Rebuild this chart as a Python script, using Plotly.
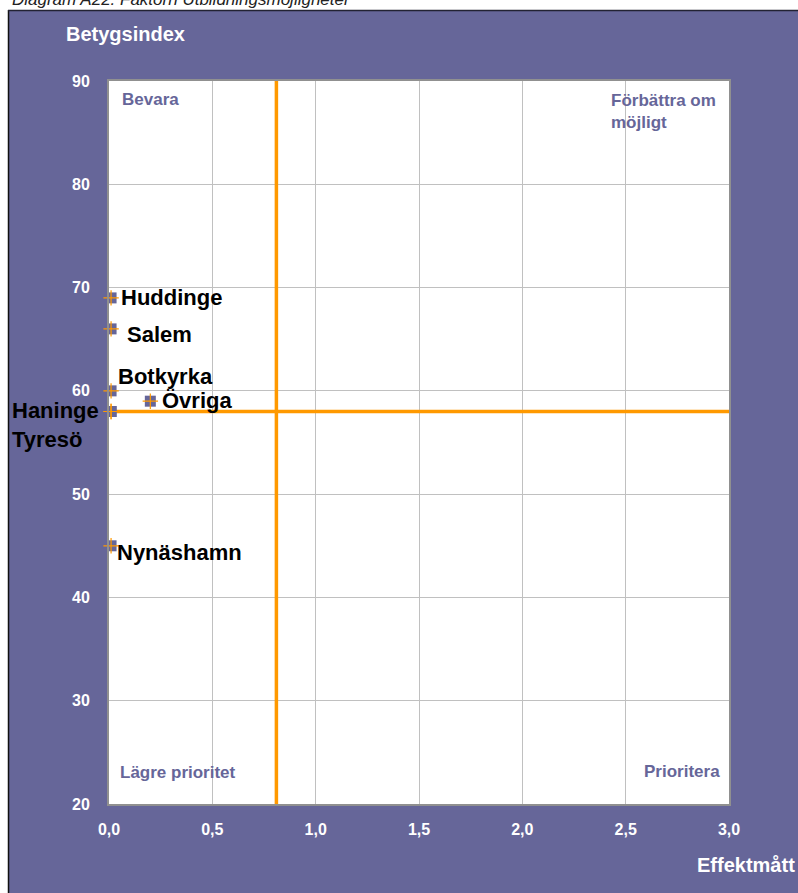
import plotly.graph_objects as go

# ---- data ----
names = ["Huddinge", "Salem", "Botkyrka", "Övriga", "Haninge", "Tyresö", "Nynäshamn"]
effekt = [0.01, 0.01, 0.01, 0.20, 0.01, 0.01, 0.01]
betyg = [69.0, 66.0, 60.0, 59.0, 58.0, 58.0, 45.0]
x_ticks = [0.0, 0.5, 1.0, 1.5, 2.0, 2.5, 3.0]
y_ticks = [20, 30, 40, 50, 60, 70, 80, 90]
x_range = [0.0, 3.0]
y_range = [20, 90]
x_mean = 0.81
y_mean = 58.0

PURPLE = "#666699"
ORANGE = "#FF9900"
FONT = "Liberation Sans, Arial, sans-serif"

W, H = 798, 893
L, R, T, B = 109, 69, 81, 89
PW, PH = W - L - R, H - T - B


def px(xp):
    return (xp - L) / PW


def py(yp):
    return (H - B - yp) / PH


fig = go.Figure()

# orange reference lines
fig.add_trace(go.Scatter(x=x_range, y=[y_mean, y_mean], mode="lines",
                         line=dict(color=ORANGE, width=3.5), hoverinfo="skip", showlegend=False))
fig.add_trace(go.Scatter(x=[x_mean, x_mean], y=y_range, mode="lines",
                         line=dict(color=ORANGE, width=3.5), hoverinfo="skip", showlegend=False))

# markers: purple square with orange cross
fig.add_trace(go.Scatter(x=effekt, y=betyg, mode="markers", text=names,
                         marker=dict(symbol="square", size=11, color=PURPLE, line=dict(width=0)),
                         cliponaxis=True, showlegend=False))
fig.add_trace(go.Scatter(x=effekt, y=betyg, mode="markers", hoverinfo="skip",
                         marker=dict(symbol="cross-thin", size=11, line=dict(color=ORANGE, width=1.2)),
                         cliponaxis=False, showlegend=False))

# data labels (offsets in pixels)
label_style = {
    "Huddinge": dict(xanchor="left", xshift=8, yshift=0),
    "Salem": dict(xanchor="left", xshift=14, yshift=-6),
    "Botkyrka": dict(xanchor="left", xshift=5, yshift=14),
    "Övriga": dict(xanchor="left", xshift=10, yshift=1),
    "Nynäshamn": dict(xanchor="left", xshift=4, yshift=-7),
}
LBL_FONT = dict(family=FONT, size=22, color="black")
annotations = []
for n, xv, yv in zip(names, effekt, betyg):
    if n in label_style:
        annotations.append(dict(x=xv, y=yv, xref="x", yref="y", text="<b>" + n + "</b>",
                                showarrow=False, yanchor="middle", font=LBL_FONT,
                                **label_style[n]))
# combined Haninge / Tyresö label
i_h = names.index("Haninge")
i_t = names.index("Tyresö")
annotations.append(dict(x=effekt[i_h], y=betyg[i_h], xref="x", yref="y",
                        text="<b>" + names[i_h] + "</b><br><b>" + names[i_t] + "</b>",
                        showarrow=False, align="left",
                        xanchor="right", yanchor="middle", xshift=-10, yshift=-13,
                        font=dict(family=FONT, size=22, color="black", lineposition="none"),
                        ))

# quadrant labels
qfont = dict(family=FONT, size=17, color=PURPLE)
annotations += [
    dict(x=px(120), y=py(99), xref="paper", yref="paper", text="<b>Bevara</b>",
         showarrow=False, xanchor="left", yanchor="middle", font=qfont),
    dict(x=px(609), y=py(89), xref="paper", yref="paper", text="<b>Förbättra om<br>möjligt</b>",
         showarrow=False, xanchor="left", yanchor="top", align="left", font=qfont),
    dict(x=px(118), y=py(772), xref="paper", yref="paper", text="<b>Lägre prioritet</b>",
         showarrow=False, xanchor="left", yanchor="middle", font=qfont),
    dict(x=px(722), y=py(771), xref="paper", yref="paper", text="<b>Prioritera</b>",
         showarrow=False, xanchor="right", yanchor="middle", font=qfont),
]

# axis titles and chart title
annotations += [
    dict(x=px(64), y=py(34), xref="paper", yref="paper", text="<b>Betygsindex</b>",
         showarrow=False, xanchor="left", yanchor="middle",
         font=dict(family=FONT, size=20, color="white")),
    dict(x=px(797), y=py(865), xref="paper", yref="paper", text="<b>Effektmått</b>",
         showarrow=False, xanchor="right", yanchor="middle",
         font=dict(family=FONT, size=20, color="white")),
    dict(x=px(10), y=py(11), xref="paper", yref="paper",
         text="<i>Diagram A22: Faktorn Utbildningsmöjligheter</i>",
         showarrow=False, xanchor="left", yanchor="bottom",
         font=dict(family=FONT, size=17, color="#222222")),
]

shapes = [
    # white strips outside the purple frame
    dict(type="rect", xref="paper", yref="paper", x0=px(-5), x1=px(W + 5), y0=py(10), y1=py(-5),
         fillcolor="white", line=dict(width=0), layer="below"),
    dict(type="rect", xref="paper", yref="paper", x0=px(-5), x1=px(8), y0=py(H + 5), y1=py(-5),
         fillcolor="white", line=dict(width=0), layer="below"),
    # dark frame lines
    dict(type="line", xref="paper", yref="paper", x0=px(8.5), x1=px(8.5), y0=py(10), y1=py(H + 5),
         line=dict(color="#111111", width=1.5), layer="below"),
    dict(type="line", xref="paper", yref="paper", x0=px(8), x1=px(W + 5), y0=py(10.5), y1=py(10.5),
         line=dict(color="#222233", width=1.5), layer="below"),
]

tickfont = dict(family=FONT, size=16, color="white", weight="bold")
fig.update_layout(
    width=W, height=H,
    margin=dict(l=L, r=R, t=T, b=B, pad=0),
    paper_bgcolor=PURPLE,
    plot_bgcolor="white",
    separators=", ",
    showlegend=False,
    annotations=annotations,
    shapes=shapes,
    xaxis=dict(range=x_range, tickvals=x_ticks, tickformat=".1f", showgrid=True,
               gridcolor="#c0c0c0", gridwidth=1, zeroline=False, showline=True,
               linecolor="#909090", linewidth=2, mirror=True, ticks="outside", ticklen=0,
               ticklabelstandoff=10, tickfont=tickfont, fixedrange=True),
    yaxis=dict(range=y_range, tickvals=y_ticks, showgrid=True,
               gridcolor="#c0c0c0", gridwidth=1, zeroline=False, showline=True,
               linecolor="#909090", linewidth=2, mirror=True, ticks="outside", ticklen=0,
               ticklabelstandoff=14, tickfont=tickfont, fixedrange=True),
)

fig.write_html("out.html", config={"displayModeBar": False},
               post_script="document.body.style.margin='0';document.body.style.overflow='hidden';")
